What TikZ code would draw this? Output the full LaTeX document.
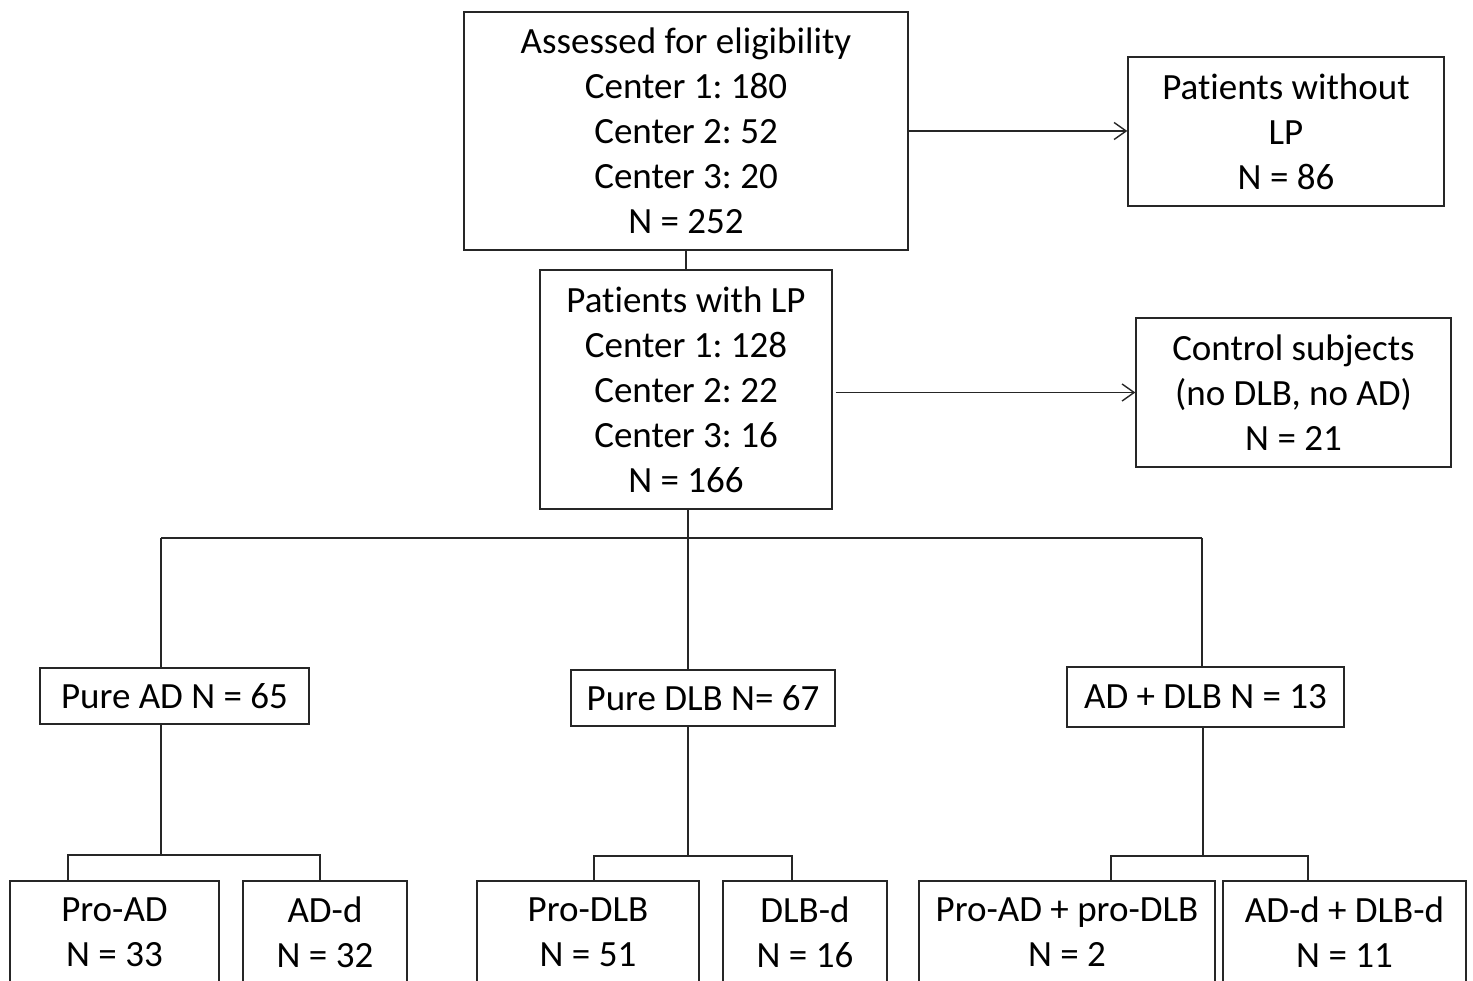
\documentclass[tikz,border=0pt]{standalone}
\usepackage{fontspec}
\setmainfont{Carlito}[Ligatures={NoCommon}]
\frenchspacing
\usetikzlibrary{arrows.meta}
\begin{document}
\begin{tikzpicture}[x=1pt,y=-1pt,
  box/.style={draw=black!85, line width=1.4pt, inner sep=0pt, align=center,
    font=\fontsize{37}{45}\selectfont},
  conn/.style={draw=black!85, line width=1.4pt},
  arr/.style={conn, -{Straight Barb[length=12pt,width=17pt,line width=1.4pt]}}]
\clip (0,0) rectangle (1473,981);
\fill[white] (0,0) rectangle (1473,981);
% top row
\node[box, minimum width=444pt, minimum height=238pt] (top) at (686,131)
  {Assessed for eligibility\\Center 1: 180\\Center 2: 52\\Center 3: 20\\N = 252};
\node[box, minimum width=316pt, minimum height=149pt] (nolp) at (1286,131.5)
  {Patients without\\LP\\N = 86};
\node[box, minimum width=292pt, minimum height=239pt] (plp) at (686,389.5)
  {Patients with LP\\Center 1: 128\\Center 2: 22\\Center 3: 16\\N = 166};
\node[box, minimum width=315pt, minimum height=149pt] (ctrl) at (1293.5,392.5)
  {Control subjects\\(no DLB, no AD)\\N = 21};
% middle row
\node[box, minimum width=269pt, minimum height=56pt] (pad) at (174.5,696) {Pure AD N = 65};
\node[box, minimum width=264pt, minimum height=56pt] (pdlb) at (703,698) {Pure DLB N= 67};
\node[box, minimum width=277pt, minimum height=60pt] (adlb) at (1205.5,697) {AD + DLB N = 13};
% bottom row
\node[box, minimum width=209pt, minimum height=103pt] (proad) at (114.5,932.5) {Pro-AD\\N = 33};
\node[box, minimum width=164pt, minimum height=103pt] (add) at (325,932.5) {AD-d\\N = 32};
\node[box, minimum width=222pt, minimum height=103pt] (prodlb) at (588,932.5) {Pro-DLB\\N = 51};
\node[box, minimum width=164pt, minimum height=103pt] (dlbd) at (805,932.5) {DLB-d\\N = 16};
\node[box, minimum width=296pt, minimum height=103pt] (proboth) at (1067,932.5) {Pro-AD + pro-DLB\\N = 2};
\node[box, minimum width=243pt, minimum height=103pt] (dboth) at (1344.5,932.5) {AD-d + DLB-d\\N = 11};
% connectors top
\draw[arr] (top.east) -- (nolp.west |- top.east);
\draw[conn] (top.south) -- (plp.north);
\draw[arr] ([xshift=3pt]plp.east |- ctrl.west) -- (ctrl.west);
% bus
\coordinate (b1) at (161,538);
\coordinate (b2) at (688,538);
\coordinate (b3) at (1202,538);
\draw[conn] (b1) -- (b3);
\draw[conn] (b2 |- plp.south) -- (b2) -- (b2 |- pdlb.north);
\draw[conn] (b1) -- (b1 |- pad.north);
\draw[conn] (b3) -- (b3 |- adlb.north);
% subtrees
\coordinate (s1) at (161,855);
\coordinate (s1l) at (68,855);
\coordinate (s1r) at (320,855);
\draw[conn] (s1 |- pad.south) -- (s1);
\draw[conn] (s1l |- proad.north) -- (s1l) -- (s1r) -- (s1r |- add.north);
\coordinate (s2) at (688,856);
\coordinate (s2l) at (594,856);
\coordinate (s2r) at (792,856);
\draw[conn] (s2 |- pdlb.south) -- (s2);
\draw[conn] (s2l |- prodlb.north) -- (s2l) -- (s2r) -- (s2r |- dlbd.north);
\coordinate (s3) at (1203,856);
\coordinate (s3l) at (1111,856);
\coordinate (s3r) at (1308,856);
\draw[conn] (s3 |- adlb.south) -- (s3);
\draw[conn] (s3l |- proboth.north) -- (s3l) -- (s3r) -- (s3r |- dboth.north);
\end{tikzpicture}
\end{document}
